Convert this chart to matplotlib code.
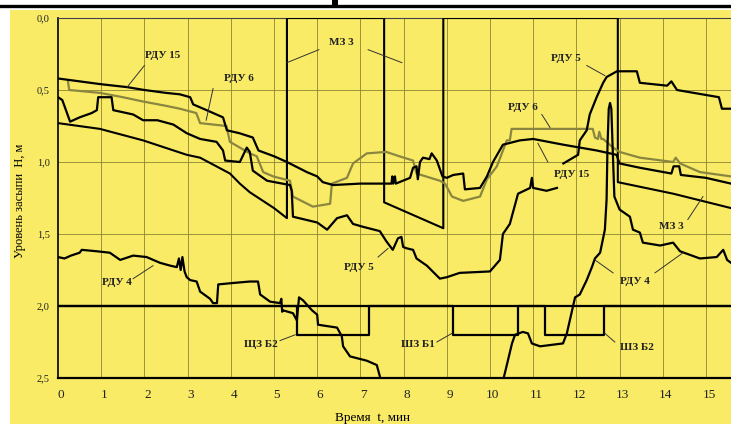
import numpy as np
import matplotlib
matplotlib.use("Agg")
import matplotlib.pyplot as plt
import matplotlib.transforms as mtransforms
from matplotlib.patches import Rectangle

nan = np.nan

# time, min / level H, m
rdu15_t = [0.0, 0.5, 1.0, 1.6, 2.0, 2.5, 2.82, 3.06, 3.13, 3.44, 3.82, 3.91, 4.2, 4.51, 4.64,
           5.0, 5.3, 5.76, 6.0, 6.13, 6.37, 7.0, 7.6, 7.72, 7.74, 7.76, 7.8, 7.82, 8.15, 8.22,
           8.3, 8.33, 8.38, 8.45, 8.6, 8.65, 8.77, 8.9, 9.0, 9.15, 9.38, 9.42, 9.77, 9.93, 10.07,
           10.3, 10.69, 11.0, 11.7, 12.47, 12.93, 13.0, 13.47, 14.2, 14.25, 14.38, 14.42, 15.0, 15.58]
rdu15_h = [0.42, 0.44, 0.46, 0.48, 0.50, 0.52, 0.53, 0.55, 0.60, 0.64, 0.69, 0.78, 0.80, 0.83, 0.92,
           0.96, 1.00, 1.07, 1.10, 1.14, 1.16, 1.15, 1.15, 1.15, 1.10, 1.15, 1.10, 1.15, 1.11, 1.04,
           1.03, 1.12, 1.00, 0.97, 0.98, 0.94, 0.99, 1.10, 1.11, 1.09, 1.08, 1.19, 1.18, 1.10, 1.00,
           0.88, 0.85, 0.84, 0.88, 0.92, 0.95, 1.01, 1.04, 1.08, 1.03, 1.03, 1.09, 1.11, 1.15]

rdu6_t = [0.23, 0.26, 0.97, 1.5, 1.97, 2.5, 2.82, 3.2, 3.29, 3.9, 3.98, 4.44, 4.6, 4.75, 4.98,
          5.37, 5.44, 5.9, 6.3, 6.34, 6.69, 6.83, 7.15, 7.6, 7.9, 8.22, 8.3, 8.84, 8.96, 9.12,
          9.38, 9.77, 9.93, 10.16, 10.39, 10.46, 10.5, 12.38, 12.43, 12.5, 12.53, 12.58, 12.62,
          12.85, 13.0, 13.47, 14.24, 14.3, 14.4, 14.86, 15.58]
rdu6_h = [0.44, 0.50, 0.52, 0.55, 0.58, 0.61, 0.63, 0.66, 0.73, 0.75, 0.86, 0.94, 0.96, 1.07, 1.10,
          1.13, 1.24, 1.31, 1.29, 1.15, 1.11, 1.01, 0.94, 0.93, 0.96, 0.99, 1.08, 1.13, 1.15, 1.24,
          1.27, 1.24, 1.12, 1.03, 0.85, 0.85, 0.77, 0.77, 0.83, 0.84, 0.79, 0.84, 0.84,
          0.90, 0.93, 0.97, 1.00, 0.97, 1.01, 1.07, 1.10]

rdu5_t = [0.0, 0.1, 0.28, 0.5, 0.78, 0.9, 0.93, 1.24, 1.28, 1.74, 1.97, 2.3, 2.67, 2.98, 3.29,
          3.67, 3.82, 3.87, 4.21, 4.37, 4.44, 4.51, 4.84, 5.37, 5.41, 5.44, 6.0, 6.23, 6.46, 6.69,
          6.83, 7.06, 7.45, 7.6, 7.75, 7.87, 7.95, 7.99, 8.08, 8.22, 8.3, 8.54, 8.84, 9.0, 9.3,
          10.0, 10.23, 10.3, 10.46, 10.65, 10.93, 10.97, 11.0, 11.31, 11.55, nan,
          11.7, 12.04, 12.08, 12.24, 12.31, 12.47, 12.62, 12.7, 12.94, 13.4, 13.47, 14.1, 14.2,
          14.33, 15.3, 15.37, 15.58]
rdu5_h = [0.55, 0.57, 0.72, 0.69, 0.66, 0.64, 0.55, 0.55, 0.64, 0.67, 0.71, 0.71, 0.74, 0.80, 0.84,
          0.86, 0.92, 0.99, 1.00, 0.90, 0.93, 1.06, 1.13, 1.16, 1.20, 1.38, 1.42, 1.47, 1.39, 1.37,
          1.43, 1.45, 1.48, 1.55, 1.61, 1.53, 1.52, 1.59, 1.60, 1.61, 1.67, 1.72, 1.81, 1.80, 1.77,
          1.76, 1.68, 1.50, 1.43, 1.22, 1.18, 1.11, 1.18, 1.20, 1.18, nan,
          1.01, 0.95, 0.85, 0.78, 0.67, 0.55, 0.45, 0.41, 0.37, 0.37, 0.45, 0.47, 0.44,
          0.50, 0.55, 0.63, 0.63]

mz3_t = [0.0, 0.97, 1.97, 2.98, 3.29, 3.98, 4.21, 4.44, 5.0, 5.3, 5.3, 7.55, 7.55, 8.92, 8.92,
         12.96, 12.96, 14.24, 15.58]
mz3_h = [0.73, 0.77, 0.85, 0.95, 0.97, 1.08, 1.15, 1.21, 1.32, 1.39, 0.0, 0.0, 1.28, 1.46, 0.0,
         0.0, 1.14, 1.22, 1.32]

rdu4_t = [0.0, 0.15, 0.3, 0.5, 0.55, 0.9, 1.2, 1.44, 1.74, 2.05, 2.36, 2.6, 2.75, 2.8, 2.84,
          2.88, 2.93, 2.98, 3.06, 3.21, 3.29, 3.52, 3.59, 3.68, 3.71, 4.06, 4.44, 4.63, 4.68,
          4.91, 5.14, 5.17, 5.19, 5.21, 5.44, 5.53, 5.58, 5.67, 5.88, 6.0, 6.02, 6.46, 6.57,
          6.6, 6.76, 7.15, 7.38, 7.47, nan,
          10.3, 10.35, 10.51, 10.58, 10.76, 10.88, 10.97, 11.16, 11.69, 11.78, 11.97, 12.08,
          12.24, 12.36, 12.43, 12.55, 12.66, 12.7, 12.72, 12.75, 12.78, 12.81, 12.84, 12.88,
          13.0, 13.24, 13.31, 13.47, 13.54, 13.94, 14.24, 14.4, 14.86, 15.25, 15.4, 15.49, 15.58]
rdu4_h = [1.66, 1.67, 1.65, 1.63, 1.61, 1.62, 1.63, 1.68, 1.65, 1.66, 1.70, 1.72, 1.73, 1.67, 1.75,
          1.66, 1.76, 1.80, 1.82, 1.83, 1.90, 1.95, 1.98, 1.98, 1.85, 1.84, 1.83, 1.83, 1.92,
          1.97, 1.98, 1.95, 2.04, 2.03, 2.05, 2.10, 1.94, 1.96, 2.03, 2.06, 2.13, 2.15, 2.21,
          2.28, 2.35, 2.38, 2.41, 2.51, nan,
          2.52, 2.46, 2.26, 2.20, 2.18, 2.19, 2.26, 2.28, 2.26, 2.19, 1.94, 1.92,
          1.82, 1.73, 1.67, 1.63, 1.47, 1.26, 0.90, 0.63, 0.59, 0.63, 0.90, 1.24,
          1.33, 1.38, 1.47, 1.49, 1.56, 1.58, 1.56, 1.62, 1.67, 1.66, 1.61, 1.68, 1.70]

shz_b2_t = [0.0, 5.53, 5.53, 7.2, 7.2, 11.27, 11.27, 12.64, 12.64, 15.58]
shz_b2_h = [2.0, 2.0, 2.2, 2.2, 2.0, 2.0, 2.2, 2.2, 2.0, 2.0]
shz_b1_t = [0.0, 9.14, 9.14, 10.64, 10.64, 15.58]
shz_b1_h = [2.0, 2.0, 2.2, 2.2, 2.0, 2.0]

# label text, text position, leader lines
labels = [
    ("РДУ 15", (2.42, 0.26), [((2.0, 0.33), (1.6, 0.48))]),
    ("РДУ 6", (4.19, 0.42), [((3.59, 0.49), (3.43, 0.71))]),
    ("МЗ 3", (6.57, 0.17), [((6.04, 0.22), (5.3, 0.31)), ((7.18, 0.22), (7.96, 0.31))]),
    ("РДУ 5", (6.97, 1.73), [((7.41, 1.66), (7.64, 1.6))]),
    ("РДУ 4", (1.37, 1.84), [((1.74, 1.81), (2.2, 1.72))]),
    ("ЩЗ Б2", (4.7, 2.27), [((5.14, 2.24), (5.49, 2.2))]),
    ("ШЗ Б1", (8.33, 2.27), [((8.77, 2.25), (9.12, 2.19))]),
    ("ШЗ Б2", (13.4, 2.29), [((12.89, 2.25), (12.66, 2.19))]),
    ("РДУ 4", (13.36, 1.83), [((12.85, 1.77), (12.43, 1.68)), ((13.82, 1.77), (14.47, 1.63))]),
    ("МЗ 3", (14.2, 1.45), [((14.58, 1.4), (14.93, 1.24))]),
    ("РДУ 5", (11.76, 0.28), [((12.24, 0.33), (12.66, 0.4))]),
    ("РДУ 6", (10.76, 0.62), [((11.2, 0.67), (11.39, 0.76))]),
    ("РДУ 15", (11.88, 1.09), [((11.34, 1.0), (11.11, 0.87))]),
]

yellow = "#F9EB66"
grid_c = "#8c8434"
olive = "#8a8640"
serif = "Liberation Serif"

fig = plt.figure(figsize=(7.31, 4.24), dpi=100, facecolor="white")
fig.patches.append(Rectangle((10 / 731, 0), 1, (424 - 10) / 424, transform=fig.transFigure,
                             facecolor=yellow, edgecolor="none", zorder=-5))
fig.lines.append(plt.Line2D([0, 1], [1 - 6 / 424, 1 - 6 / 424], transform=fig.transFigure,
                            color="black", lw=2.4))
fig.patches.append(Rectangle((332 / 731, 1 - 8 / 424), 6 / 731, 8 / 424, transform=fig.transFigure,
                             facecolor="black", edgecolor="none"))

ax = fig.add_axes([58 / 731, 1 - 378 / 424, (731 - 58) / 731, 360 / 424])
ax.set_zorder(2)
ax.set_facecolor("none")
ax.set_xlim(0, 15.58)
ax.set_ylim(2.5, 0)

for t in range(1, 16):
    ax.axvline(t, color=grid_c, lw=0.6, zorder=1)
for h in [0.5, 1.0, 1.5]:
    ax.axhline(h, color=grid_c, lw=0.6, zorder=1)

ax.plot(shz_b2_t, shz_b2_h, color="black", lw=1.6, zorder=3)
ax.plot(shz_b1_t, shz_b1_h, color="black", lw=1.6, zorder=3)
ax.plot(mz3_t, mz3_h, color="black", lw=1.5, zorder=3)
ax.plot(rdu6_t, rdu6_h, color=olive, lw=1.6, zorder=3)
ax.plot(rdu15_t, rdu15_h, color="black", lw=1.6, zorder=4)
ax.plot(rdu5_t, rdu5_h, color="black", lw=1.6, zorder=4)
ax.plot(rdu4_t, rdu4_h, color="black", lw=1.6, zorder=4)

for text, pos, leaders in labels:
    ax.text(pos[0], pos[1], text, ha="center", va="center", fontsize=8, family=serif,
            fontweight="bold", color="#222222", zorder=5)
    for (x0, y0), (x1, y1) in leaders:
        ax.plot([x0, x1], [y0, y1], color="#333333", lw=0.7, zorder=5)

ax.set_xticks(range(0, 16))
ax.set_xticklabels([str(i) for i in range(0, 16)], family=serif, fontsize=9.5)
ax.set_yticks([0.0, 0.5, 1.0, 1.5, 2.0, 2.5])
ax.set_yticklabels(["0,0", "0,5", "1,0", "1,5", "2,0", "2,5"], family=serif, fontsize=7.5)
ax.tick_params(length=0, pad=6, colors="#222222")
ax.tick_params(axis="x", pad=8)
shift = mtransforms.ScaledTranslation(3 / 100, 0, fig.dpi_scale_trans)
for lbl in ax.get_xticklabels():
    lbl.set_transform(lbl.get_transform() + shift)

ax.spines["right"].set_visible(False)
ax.spines["left"].set_linewidth(1.2)
ax.spines["bottom"].set_linewidth(1.6)
ax.spines["top"].set_linewidth(0.8)
ax.spines["top"].set_color("#444444")

fig.text(372 / 731, 1 - 418 / 424, "Время  t, мин", ha="center", va="center",
         family=serif, fontsize=9.5)
fig.text(20 / 731, 1 - 201 / 424, "Уровень засыпи  H, м", ha="center", va="center",
         rotation=90, family=serif, fontsize=9)

fig.savefig("out.png", dpi=100, facecolor=fig.get_facecolor())
